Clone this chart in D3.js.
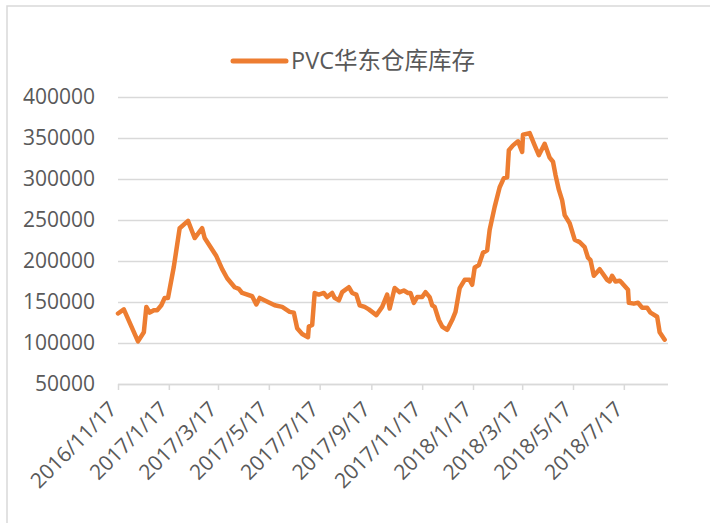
<!DOCTYPE html>
<html>
<head>
<meta charset="utf-8">
<script src="https://cdn.jsdelivr.net/npm/d3@7"></script>
<style>
  body { margin: 0; background: #fff; }
  svg { display: block; }
</style>
</head>
<body>
<svg id="chart" width="710" height="523"></svg>
<script>
// series name + dates/values
const seriesName = "PVC华东仓库库存";

const dates = [
  "2016-11-17", "2016-11-24", "2016-12-11", "2016-12-18", "2016-12-21", "2016-12-25", "2016-12-30",
  "2017-01-03", "2017-01-08", "2017-01-12", "2017-01-16", "2017-01-23", "2017-01-30", "2017-02-09",
  "2017-02-17", "2017-02-26", "2017-03-01", "2017-03-15", "2017-03-22", "2017-03-28", "2017-04-06",
  "2017-04-11", "2017-04-15", "2017-04-27", "2017-05-02", "2017-05-06", "2017-05-24", "2017-06-02",
  "2017-06-11", "2017-06-16", "2017-06-20", "2017-06-26", "2017-07-03", "2017-07-04", "2017-07-08",
  "2017-07-11", "2017-07-16", "2017-07-22", "2017-07-26", "2017-08-01", "2017-08-04", "2017-08-09",
  "2017-08-13", "2017-08-21", "2017-08-25", "2017-08-30", "2017-09-03", "2017-09-09", "2017-09-14",
  "2017-09-23", "2017-09-30", "2017-10-06", "2017-10-09", "2017-10-15", "2017-10-21", "2017-10-26",
  "2017-10-31", "2017-11-03", "2017-11-07", "2017-11-11", "2017-11-17", "2017-11-21", "2017-11-26",
  "2017-11-29", "2017-12-02", "2017-12-07", "2017-12-11", "2017-12-17", "2017-12-23", "2017-12-27",
  "2018-01-01", "2018-01-07", "2018-01-13", "2018-01-16", "2018-01-19", "2018-01-24", "2018-01-29",
  "2018-02-03", "2018-02-06", "2018-02-12", "2018-02-18", "2018-02-23", "2018-02-27", "2018-03-01",
  "2018-03-06", "2018-03-12", "2018-03-17", "2018-03-18", "2018-03-26", "2018-04-01", "2018-04-06",
  "2018-04-13", "2018-04-19", "2018-04-23", "2018-04-26", "2018-04-30", "2018-05-04", "2018-05-07",
  "2018-05-13", "2018-05-19", "2018-05-25", "2018-05-31", "2018-06-04", "2018-06-07", "2018-06-11",
  "2018-06-18", "2018-06-27", "2018-06-30", "2018-07-03", "2018-07-07", "2018-07-12", "2018-07-15",
  "2018-07-22", "2018-07-23", "2018-07-29", "2018-08-03", "2018-08-08", "2018-08-14", "2018-08-18",
  "2018-08-26", "2018-08-29", "2018-09-04"
];

const stock = [
  136000, 141000, 102000, 113000, 144000, 137000, 140000,
  140000, 146000, 155000, 155000, 193000, 240000, 249000,
  228000, 240000, 228000, 206000, 190000, 179000, 168000,
  166000, 161000, 157000, 147000, 155000, 146000, 144000,
  138000, 137000, 118000, 111000, 107000, 120000, 122000,
  161000, 159000, 161000, 156000, 161000, 155000, 152000,
  162000, 168000, 161000, 159000, 146000, 144000, 141000,
  134000, 144000, 159000, 142000, 167000, 162000, 164000,
  161000, 161000, 149000, 156000, 156000, 162000, 156000,
  146000, 144000, 128000, 120000, 116000, 128000, 138000,
  167000, 177000, 177000, 171000, 192000, 195000, 210000,
  213000, 238000, 266000, 290000, 301000, 302000, 335000,
  341000, 346000, 333000, 354000, 356000, 341000, 329000,
  343000, 326000, 321000, 305000, 287000, 274000, 256000,
  246000, 226000, 223000, 217000, 204000, 201000, 182000,
  190000, 177000, 175000, 182000, 175000, 176000, 173000,
  165000, 149000, 148000, 149000, 143000, 143000, 137000,
  132000, 113000, 104000
];

const yTicks = [50000, 100000, 150000, 200000, 250000, 300000, 350000, 400000];
const xTickDates = [
  "2016-11-17", "2017-01-17", "2017-03-17", "2017-05-17", "2017-07-17", "2017-09-17",
  "2017-11-17", "2018-01-17", "2018-03-17", "2018-05-17", "2018-07-17"
];
const xStart = "2016-11-17";
const xEnd = "2018-09-08";

const parse = d3.timeParse("%Y-%m-%d");
const fmt = d3.timeFormat("%Y/%-m/%-d");
const data = dates.map((d, i) => ({ date: parse(d), value: stock[i] }));

const font = "'Open Sans', 'Noto Sans CJK SC', sans-serif";
const textColor = "#595959";
const gridColor = "#d9d9d9";
const lineColor = "#ED7D31";

const svg = d3.select("#chart");

// chart border (only left/top edges are inside the picture)
svg.append("rect")
  .attr("x", 7).attr("y", 6)
  .attr("width", 800).attr("height", 600)
  .attr("fill", "none")
  .attr("stroke", gridColor)
  .attr("stroke-width", 1.5);

const plot = { left: 118, right: 668, top: 97, bottom: 384 };

const x = d3.scaleTime()
  .domain([parse(xStart), parse(xEnd)])
  .range([plot.left, plot.right]);

const y = d3.scaleLinear()
  .domain([50000, 400000])
  .range([plot.bottom, plot.top]);

// gridlines + y labels
const yAxis = svg.append("g")
  .attr("transform", `translate(${plot.left},0)`)
  .call(d3.axisLeft(y).tickValues(yTicks).tickSize(-(plot.right - plot.left)).tickPadding(23).tickFormat(d3.format("d")));
yAxis.select(".domain").remove();
yAxis.selectAll(".tick line").attr("stroke", gridColor).attr("stroke-width", 1.5);
yAxis.selectAll(".tick text")
  .attr("fill", textColor)
  .style("font-family", font)
  .style("font-size", "21px");

// x axis with rotated date labels
const xAxis = svg.append("g")
  .attr("transform", `translate(0,${plot.bottom})`)
  .call(d3.axisBottom(x).tickValues(xTickDates.map(parse)).tickSize(6).tickFormat(fmt));
xAxis.select(".domain").attr("stroke", gridColor).attr("stroke-width", 1.5)
  .attr("d", `M${plot.left},0.5H${plot.right}`);
xAxis.selectAll(".tick line").attr("stroke", gridColor).attr("stroke-width", 1.5);
xAxis.selectAll(".tick text")
  .attr("fill", textColor)
  .style("font-family", font)
  .style("font-size", "21px")
  .attr("text-anchor", "end")
  .attr("dy", "0.35em")
  .attr("transform", "translate(-12,15) rotate(-45)");

// line
const line = d3.line()
  .x(d => x(d.date))
  .y(d => y(d.value));

svg.append("path")
  .datum(data)
  .attr("d", line)
  .attr("fill", "none")
  .attr("stroke", lineColor)
  .attr("stroke-width", 4.5)
  .attr("stroke-linejoin", "round")
  .attr("stroke-linecap", "round");

// legend
const legend = svg.append("g").attr("transform", "translate(233,61)");
legend.append("line")
  .attr("x1", 0).attr("x2", 53)
  .attr("stroke", lineColor)
  .attr("stroke-width", 5)
  .attr("stroke-linecap", "round");
legend.append("text")
  .attr("x", 58)
  .attr("dy", "0.35em")
  .attr("fill", textColor)
  .style("font-family", font)
  .style("font-size", "23.5px")
  .text(seriesName);
</script>
</body>
</html>
